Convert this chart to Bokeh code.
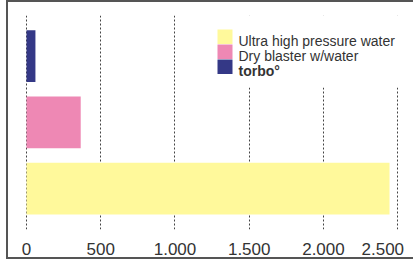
from bokeh.plotting import figure
from bokeh.models import Range1d, FixedTicker, ColumnDataSource, BoxAnnotation, Label
from bokeh.embed import file_html
from bokeh.resources import INLINE

# ---- data ----
categories = ["Ultra high pressure water", "Dry blaster w/water", "torbo\u00b0"]
values = [2445, 365, 60]
colors = ["#FFF99B", "#EE88B4", "#343886"]
tick_values = [0, 500, 1000, 1500, 2000, 2500]
tick_labels = ["0", "500", "1.000", "1.500", "2.000", "2.500"]

FONT = "Liberation Sans"
TEXT = "#333333"

# outer size includes the 2px box borders (border-box sizing)
p = figure(width=407, height=259, output_backend="svg", toolbar_location=None,
           x_range=Range1d(-81, 2620), y_range=Range1d(-0.616, 2.613),
           min_border_left=6, min_border_right=0, min_border_top=13, min_border_bottom=27)
p.styles = {"margin-left": "6px", "border-left": "2px solid #555555",
            "border-top": "2px solid #555555", "border-bottom": "2px solid #555555"}
p.outline_line_color = None
p.background_fill_color = "white"
p.border_fill_color = "white"

renderers = []
for i, (cat, v, c) in enumerate(zip(categories, values, colors)):
    src = ColumnDataSource(dict(y=[i], right=[v]))
    r = p.hbar(y="y", left=0, right="right", height=0.78, source=src,
               fill_color=c, line_color=None)
    renderers.append(r)

p.yaxis.visible = False
p.ygrid.visible = False
p.xaxis.ticker = FixedTicker(ticks=tick_values)
overrides = {t: l for t, l in zip(tick_values, tick_labels)}
overrides[tick_values[-1]] = tick_labels[-1] + "\u00a0\u00a0"   # keep last label inside the box
p.xaxis.major_label_overrides = overrides
p.xaxis.axis_line_color = None
p.xaxis.major_tick_line_color = None
p.xaxis.minor_tick_line_color = None
p.xaxis.major_label_text_font = FONT
p.xaxis.major_label_text_font_size = "17px"
p.xaxis.major_label_text_color = TEXT
p.xaxis.major_label_standoff = 4
p.xgrid.ticker = FixedTicker(ticks=tick_values)
p.xgrid.grid_line_color = "#444444"
p.xgrid.grid_line_dash = "2 2"
p.xgrid.grid_line_width = 1

# ---- legend (drawn in screen units relative to the plot frame) ----
p.add_layout(BoxAnnotation(left=190, right=420, top=216, bottom=142,
                           left_units="screen", right_units="screen",
                           top_units="screen", bottom_units="screen",
                           fill_color="white", fill_alpha=1, line_alpha=0))
row_top, row_pitch, sw_h = 200, 15, 14.5
for k, (cat, c) in enumerate(zip(categories, colors)):
    top = row_top - row_pitch * k
    p.add_layout(BoxAnnotation(left=203, right=218, top=top, bottom=top - sw_h,
                               left_units="screen", right_units="screen",
                               top_units="screen", bottom_units="screen",
                               fill_color=c, fill_alpha=1, line_alpha=0))
    p.add_layout(Label(x=224, y=top - 11.7, x_units="screen", y_units="screen",
                       text=cat, text_font=FONT, text_font_size="14px", text_color=TEXT,
                       text_baseline="alphabetic",
                       text_font_style="bold" if k == len(categories) - 1 else "normal"))

open("out.html", "w").write(file_html(p, INLINE))
